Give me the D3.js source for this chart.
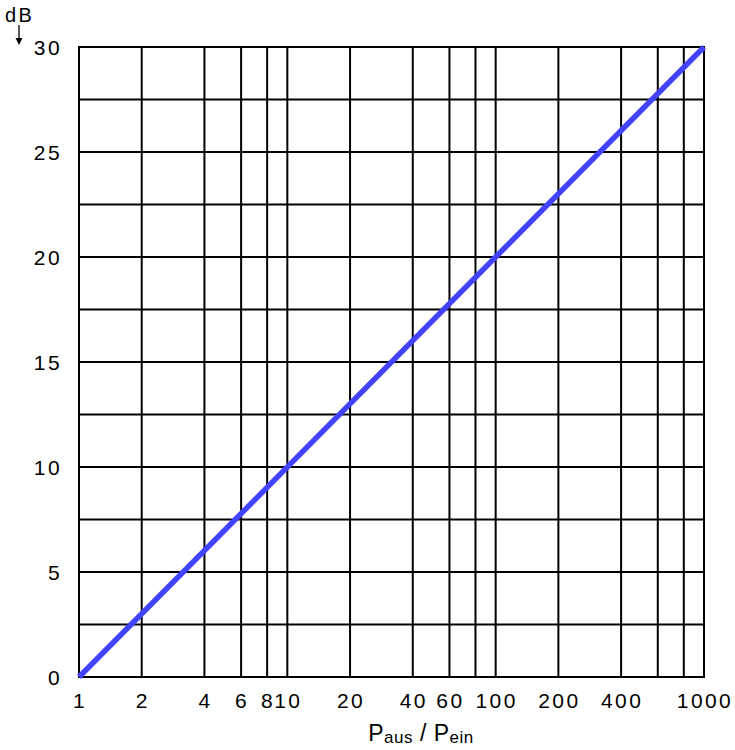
<!DOCTYPE html>
<html>
<head>
<meta charset="utf-8">
<script src="https://cdn.jsdelivr.net/npm/d3@7"></script>
<style>
  body { margin: 0; background: #fff; }
  text { font-family: "Liberation Sans", Arial, sans-serif; fill: #000; }
</style>
</head>
<body>
<svg id="chart" width="735" height="750"></svg>
<script>
// power ratio ticks (vertical grid) and dB ticks
const ratioGrid = [1, 2, 4, 6, 8, 10, 20, 40, 60, 80, 100, 200, 400, 600, 800, 1000],
    ratioLabels = [1, 2, 4, 6, 8, 10, 20, 40, 60, 100, 200, 400, 1000],
    dbGrid = [0, 2.5, 5, 7.5, 10, 12.5, 15, 17.5, 20, 22.5, 25, 27.5, 30],
    dbLabels = [0, 5, 10, 15, 20, 25, 30];

// dB = 10 * log10(ratio)
const ratios = [1, 1000],
    dbValues = [0, 30];

const svg = d3.select("#chart"),
    margin = { top: 47, right: 31, bottom: 73, left: 79 },
    width = +svg.attr("width") - margin.left - margin.right,
    height = +svg.attr("height") - margin.top - margin.bottom,
    g = svg.append("g").attr("transform", "translate(" + margin.left + "," + margin.top + ")");

const x = d3.scaleLog().domain([1, 1000]).range([0, width]),
    y = d3.scaleLinear().domain([0, 30]).range([height, 0]);

// grid
g.selectAll(".vgrid")
    .data(ratioGrid)
    .enter().append("line")
    .attr("x1", d => x(d)).attr("x2", d => x(d))
    .attr("y1", 0).attr("y2", height)
    .style("stroke", "#000").style("stroke-width", 2);

g.selectAll(".hgrid")
    .data(dbGrid)
    .enter().append("line")
    .attr("x1", -1).attr("x2", width + 1)
    .attr("y1", d => y(d)).attr("y2", d => y(d))
    .style("stroke", "#000").style("stroke-width", 2);

// tick labels (the original font is set quite wide)
g.selectAll(".xlab")
    .data(ratioLabels)
    .enter().append("text")
    .attr("x", d => x(d) + 1)
    .attr("y", height + 31)
    .attr("text-anchor", "middle")
    .style("font-size", "21px")
    .style("letter-spacing", "2.4px")
    .text(d => d);

g.selectAll(".ylab")
    .data(dbLabels)
    .enter().append("text")
    .attr("x", -17)
    .attr("y", d => y(d) + 8)
    .attr("text-anchor", "end")
    .style("font-size", "21px")
    .style("letter-spacing", "2.4px")
    .text(d => d);

// the curve
const line = d3.line()
    .x((d, i) => x(ratios[i]))
    .y(d => y(d));

g.append("path")
    .datum(dbValues)
    .attr("d", line)
    .style("fill", "none")
    .style("stroke", "#4343ff")
    .style("stroke-width", 5.5);

// axis title
const title = svg.append("text")
    .attr("x", 421)
    .attr("y", 741)
    .attr("text-anchor", "middle")
    .style("font-size", "23px")
    .style("letter-spacing", "0.5px");
title.append("tspan").text("P");
title.append("tspan").attr("dy", 2).style("font-size", "17px").text("aus");
title.append("tspan").attr("dy", -2).text(" / P");
title.append("tspan").attr("dy", 2).style("font-size", "17px").text("ein");

// dB unit with arrow
svg.append("text")
    .attr("x", 5)
    .attr("y", 22)
    .style("font-size", "20px")
    .style("letter-spacing", "2.5px")
    .text("dB");

svg.append("line")
    .attr("x1", 19).attr("x2", 19)
    .attr("y1", 25).attr("y2", 41)
    .style("stroke", "#000").style("stroke-width", 1.3);
svg.append("path")
    .attr("d", "M15.5,38 L22.5,38 L19,45 Z")
    .style("fill", "#000");
</script>
</body>
</html>
